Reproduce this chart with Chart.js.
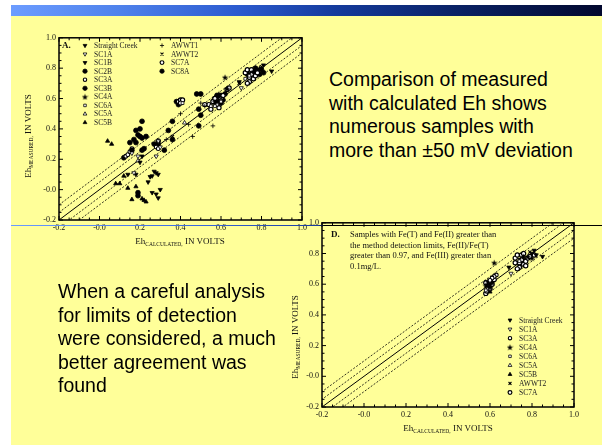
<!DOCTYPE html>
<html>
<head>
<meta charset="utf-8">
<script src="https://cdn.jsdelivr.net/npm/chart.js@4.4.1/dist/chart.umd.min.js"></script>
<style>
html,body{margin:0;padding:0;background:#fff;width:602px;height:445px;overflow:hidden;position:relative;font-family:"Liberation Serif","Times New Roman",serif;color:#111}
#slide{position:absolute;left:11px;top:16px;width:591px;height:429px;background:#ffff99}
#banner{position:absolute;left:11px;top:5px;width:591px;height:11px;background:linear-gradient(90deg,#6c9cff 0%,#4f82ec 18%,#2c5bd0 38%,#143a9c 55%,#0a2266 75%,#02082e 100%)}
#rule{position:absolute;left:11px;top:225px;width:591px;height:1px;background:linear-gradient(90deg,#6c9cff 0%,#3b6be0 30%,#1b3c9c 52%,#000 53%,#000 100%)}
.say{position:absolute;font-family:"Liberation Sans",Arial,sans-serif;font-size:19.5px;line-height:23.6px;color:#000;white-space:nowrap}
.ttl{position:absolute;white-space:nowrap;font-size:9px;transform:translate(-50%,-50%)}
.ttl.rot{transform:translate(-50%,-50%) rotate(-90deg)}
.ttl sub{font-size:5.5px;vertical-align:-2px}
.note{position:absolute;font-size:8.5px;line-height:10.6px;white-space:nowrap}
canvas{position:absolute}
</style>
</head>
<body>
<div id="slide"></div>
<div id="banner"></div>

<canvas id="chartA" width="320" height="225" style="left:0;top:30px"></canvas>
<canvas id="chartD" width="300" height="230" style="left:290px;top:215px"></canvas>
<div id="rule"></div>

<div class="note" style="left:62px;top:40px;font-weight:bold;font-size:9px">A.</div>
<div class="ttl rot" style="left:28px;top:136px">Eh<sub>MEASURED,</sub> IN VOLTS</div>
<div class="ttl" style="left:180px;top:241px">Eh<sub>CALCULATED,</sub> IN VOLTS</div>

<div class="note" style="left:331px;top:229px;font-weight:bold;font-size:9px">D.</div>
<div class="note" style="left:350px;top:229px">Samples with Fe(T) and Fe(II) greater than<br>the method detection limits, Fe(II)/Fe(T)<br>greater than 0.97, and Fe(III) greater than<br>0.1mg/L.</div>
<div class="ttl rot" style="left:295px;top:337px">Eh<sub>MEASURED,</sub> IN VOLTS</div>
<div class="ttl" style="left:448px;top:428px">Eh<sub>CALCULATED,</sub> IN VOLTS</div>

<div class="say" style="left:329px;top:68px">Comparison of measured<br>with calculated Eh shows<br>numerous samples with<br>more than ±50 mV deviation</div>
<div class="say" style="left:58px;top:280px">When a careful analysis<br>for limits of detection<br>were considered, a much<br>better agreement was<br>found</div>

<script>
// axis range and tick labels (volts)
const axisMin = -0.2;
const axisMax = 1.0;
const tickStep = 0.2;

// reference lines: 1:1 and offsets of +-50 / +-100 mV
const lineX = [-0.3, 1.1];
const lineOffsets = [0, 0.05, -0.05, 0.1, -0.1];

// panel A  [Eh calculated, Eh measured]
const aStraightCreek = [[0.27,0.12],[0.28,0.11],[0.29,0.10],[0.26,0.09],[0.25,0.085],[0.24,0.05],[0.30,0.00],[0.28,-0.03],[0.29,-0.055],[0.26,-0.02],[0.85,0.78],[0.81,0.82],[0.69,0.71]];
const aSC1A = [[0.28,0.22],[0.19,0.22],[0.29,0.32],[0.70,0.67],[0.17,0.11],[0.30,0.28],[0.16,0.24]];
const aSC1B = [[0.20,0.18],[0.18,0.10],[0.21,0.22],[0.14,0.10]];
const aSC2B = [[0.15,0.31],[0.18,0.39],[0.21,0.45],[0.20,0.35],[0.19,0.36],[0.21,0.34],[0.23,0.35],[0.18,0.31],[0.16,0.26],[0.20,0.40],[0.22,0.27],[0.21,0.26],[0.17,0.33],[0.19,-0.02],[0.19,-0.04]];
const aSC3A = [[0.13,0.22],[0.14,0.23],[0.15,0.25],[0.16,0.27],[0.28,0.28],[0.29,0.27]];
const aSC3B = [[0.34,0.39],[0.36,0.45],[0.32,0.26],[0.29,0.30],[0.36,0.33],[0.27,0.30],[0.29,0.32],[0.49,0.42],[0.49,0.53],[0.50,0.49],[0.12,0.21]];
const aSC4A = [[0.62,0.74],[0.63,0.665],[0.59,0.63],[0.79,0.80],[0.76,0.78],[0.57,0.58]];
const aSC6A = [[0.58,0.56],[0.60,0.58],[0.57,0.55],[0.74,0.75],[0.72,0.73],[0.55,0.55],[0.41,0.57]];
const aSC5A = [[0.19,0.19],[0.42,0.44]];
const aSC5B = [[0.04,0.32],[0.06,0.30],[0.08,0.04],[0.14,0.01],[0.16,-0.065],[0.23,-0.08],[0.22,-0.07],[0.12,0.09],[0.18,0.02],[0.21,-0.06],[0.10,0.04]];
const aAWWT1 = [[0.40,0.50],[0.56,0.42],[0.46,0.35],[0.50,0.57],[0.44,0.43],[0.52,0.55],[0.33,0.33]];
const aAWWT2 = [[0.69,0.70],[0.80,0.81],[0.74,0.76],[0.60,0.60],[0.36,0.35]];
const aSC7A = [[0.39,0.58],[0.40,0.59],[0.41,0.59],[0.40,0.57],[0.54,0.56],[0.56,0.58],[0.58,0.56],[0.59,0.54],[0.60,0.60],[0.61,0.62],[0.63,0.66],[0.64,0.67],[0.72,0.77],[0.73,0.79],[0.74,0.74],[0.75,0.76],[0.76,0.73],[0.77,0.75],[0.78,0.77],[0.74,0.71],[0.73,0.70],[0.75,0.79],[0.57,0.60],[0.52,0.56],[0.55,0.53]];
const aSC8A = [[0.38,0.58],[0.39,0.56],[0.48,0.63],[0.50,0.63],[0.57,0.60],[0.58,0.62],[0.59,0.58],[0.60,0.57],[0.59,0.61],[0.58,0.57],[0.61,0.59],[0.60,0.62],[0.62,0.63],[0.76,0.78],[0.78,0.78],[0.79,0.76],[0.80,0.79],[0.81,0.77],[0.77,0.80],[0.73,0.76]];

// panel D
const dStraightCreek = [[0.85,0.78],[0.81,0.82],[0.80,0.80],[0.69,0.71],[0.82,0.79]];
const dSC1A = [[0.70,0.67]];
const dSC3A = [[0.63,0.66],[0.62,0.65],[0.61,0.64],[0.60,0.625]];
const dSC4A = [[0.62,0.74],[0.59,0.60],[0.60,0.58],[0.58,0.59],[0.61,0.61],[0.59,0.62],[0.60,0.60],[0.76,0.78],[0.78,0.78],[0.80,0.77]];
const dSC6A = [[0.58,0.56],[0.74,0.75],[0.60,0.57]];
const dSC5A = [[0.59,0.57]];
const dSC5B = [[0.60,0.55]];
const dAWWT2 = [[0.74,0.76],[0.79,0.81]];
const dSC7A = [[0.58,0.54],[0.585,0.555],[0.60,0.57],[0.59,0.60],[0.58,0.61],[0.60,0.62],[0.61,0.60],[0.62,0.63],[0.72,0.77],[0.73,0.79],[0.74,0.74],[0.75,0.76],[0.76,0.73],[0.77,0.75],[0.78,0.77],[0.74,0.71],[0.73,0.70],[0.75,0.79],[0.76,0.80],[0.79,0.78],[0.81,0.79],[0.72,0.74],[0.77,0.72]];

// filled star marker
const star = document.createElement('canvas');
star.width = 7; star.height = 7;
(function () {
  const c = star.getContext('2d');
  c.fillStyle = '#000';
  c.beginPath();
  for (let i = 0; i < 10; i++) {
    const r = i % 2 ? 1.4 : 3.4;
    const a = -Math.PI / 2 + i * Math.PI / 5;
    c.lineTo(3.5 + r * Math.cos(a), 3.8 + r * Math.sin(a));
  }
  c.closePath();
  c.fill();
})();

const markStyles = {
  'Straight Creek': {style: 'triangle', rot: 180, fill: true},
  'SC1A': {style: 'triangle', rot: 180, fill: false},
  'SC1B': {style: 'triangle', rot: 180, fill: true},
  'SC2B': {style: 'circle', fill: true},
  'SC3A': {style: 'circle', fill: false, bw: 1.1, r: 1.9},
  'SC3B': {style: 'circle', fill: true},
  'SC4A': {style: star, fill: true},
  'SC6A': {style: 'rect', fill: false, r: 2},
  'SC5A': {style: 'triangle', fill: false},
  'SC5B': {style: 'triangle', fill: true},
  'AWWT1': {style: 'cross', fill: false, r: 2.3},
  'AWWT2': {style: 'crossRot', fill: false, r: 2.3, bw: 1.1},
  'SC7A': {style: 'circle', fill: false, bw: 1.2, r: 2.1},
  'SC8A': {style: 'circle', fill: true, r: 2.4}
};

function pointSet(name, pts) {
  const s = markStyles[name];
  return {
    label: name,
    data: pts.map(([x, y]) => ({x, y})),
    pointStyle: s.style,
    rotation: s.rot || 0,
    pointRadius: s.r || 2.4,
    backgroundColor: s.fill ? '#000' : '#fff',
    borderColor: '#000',
    borderWidth: s.bw || 0.8,
    showLine: false,
    order: 1
  };
}

function refLines() {
  return lineOffsets.map(off => ({
    data: lineX.map(x => ({x, y: x + off})),
    showLine: true,
    pointRadius: 0,
    borderColor: '#000',
    borderWidth: off === 0 ? 1 : 0.8,
    borderDash: off === 0 ? [] : [2, 1.6],
    order: 10
  }));
}

// frame with inward ticks on all four sides
const frameTicks = {
  id: 'frameTicks',
  afterDatasetsDraw(chart) {
    const {ctx, chartArea: a} = chart;
    const sx = chart.scales.x, sy = chart.scales.y;
    ctx.save();
    ctx.strokeStyle = '#000';
    ctx.lineWidth = 1;
    ctx.beginPath();
    for (let i = 0; i <= 24; i++) {
      const v = axisMin + i * 0.05;
      const len = i % 4 === 0 ? 4 : 2.5;
      const px = sx.getPixelForValue(v), py = sy.getPixelForValue(v);
      ctx.moveTo(px, a.bottom); ctx.lineTo(px, a.bottom - len);
      ctx.moveTo(px, a.top); ctx.lineTo(px, a.top + len);
      ctx.moveTo(a.left, py); ctx.lineTo(a.left + len, py);
      ctx.moveTo(a.right, py); ctx.lineTo(a.right - len, py);
    }
    ctx.stroke();
    ctx.lineWidth = 1.5;
    ctx.strokeRect(a.left, a.top, a.right - a.left, a.bottom - a.top);
    ctx.restore();
  }
};

// legend drawn inside the plot
const pointKey = {
  id: 'pointKey',
  afterDraw(chart, args, opts) {
    const {ctx, chartArea: a} = chart;
    ctx.save();
    ctx.font = '7.5px "Liberation Serif", serif';
    ctx.textBaseline = 'middle';
    opts.columns.forEach(col => {
      col.names.forEach((name, i) => {
        const s = markStyles[name];
        const x = a.left + col.dx, y = a.top + col.dy + i * col.step;
        ctx.fillStyle = s.fill ? '#000' : '#fff';
        ctx.strokeStyle = '#000';
        ctx.lineWidth = s.bw || 0.8;
        Chart.helpers.drawPoint(ctx, {pointStyle: s.style, rotation: s.rot || 0, radius: (s.r || 2.4) * 0.9, borderWidth: s.bw || 0.8}, x, y);
        ctx.fillStyle = '#222';
        ctx.fillText(name, x + 9, y + 0.5);
      });
    });
    ctx.restore();
  }
};

Chart.defaults.font.family = '"Liberation Serif", "Times New Roman", serif';
Chart.defaults.color = '#111';

function makeChart(id, sets, pad, yWidth, xHeight, columns) {
  const tickFont = {size: 8};
  return new Chart(document.getElementById(id), {
    type: 'scatter',
    data: {datasets: sets.concat(refLines())},
    options: {
      responsive: false,
      animation: false,
      layout: {padding: pad},
      plugins: {legend: {display: false}, tooltip: {enabled: false}, pointKey: {columns}},
      scales: {
        x: {
          type: 'linear', min: axisMin, max: axisMax,
          grid: {display: false, drawTicks: false}, border: {display: false},
          ticks: {stepSize: tickStep, font: tickFont, padding: 3, maxRotation: 0, callback: v => v.toFixed(1)},
          afterFit: s => { s.height = xHeight; }
        },
        y: {
          type: 'linear', min: axisMin, max: axisMax,
          grid: {display: false, drawTicks: false}, border: {display: false},
          ticks: {stepSize: tickStep, font: tickFont, padding: 3, callback: v => v.toFixed(1)},
          afterFit: s => { s.width = yWidth; }
        }
      }
    },
    plugins: [frameTicks, pointKey]
  });
}

makeChart('chartA', [
  pointSet('Straight Creek', aStraightCreek), pointSet('SC1A', aSC1A), pointSet('SC1B', aSC1B),
  pointSet('SC2B', aSC2B), pointSet('SC3A', aSC3A), pointSet('SC3B', aSC3B), pointSet('SC4A', aSC4A),
  pointSet('SC6A', aSC6A), pointSet('SC5A', aSC5A), pointSet('SC5B', aSC5B), pointSet('AWWT1', aAWWT1),
  pointSet('AWWT2', aAWWT2), pointSet('SC7A', aSC7A), pointSet('SC8A', aSC8A)
], {top: 7, right: 18, left: 0, bottom: 0}, 59, 35, [
  {dx: 26, dy: 7.7, step: 8.56, names: ['Straight Creek', 'SC1A', 'SC1B', 'SC2B', 'SC3A', 'SC3B', 'SC4A', 'SC6A', 'SC5A', 'SC5B']},
  {dx: 103, dy: 7.7, step: 8.56, names: ['AWWT1', 'AWWT2', 'SC7A', 'SC8A']}
]);

makeChart('chartD', [
  pointSet('Straight Creek', dStraightCreek), pointSet('SC1A', dSC1A), pointSet('SC3A', dSC3A),
  pointSet('SC4A', dSC4A), pointSet('SC6A', dSC6A), pointSet('SC5A', dSC5A), pointSet('SC5B', dSC5B),
  pointSet('AWWT2', dAWWT2), pointSet('SC7A', dSC7A)
], {top: 7, right: 16, left: 0, bottom: 0}, 32, 38, [
  {dx: 188, dy: 97.3, step: 9.05, names: ['Straight Creek', 'SC1A', 'SC3A', 'SC4A', 'SC6A', 'SC5A', 'SC5B', 'AWWT2', 'SC7A']}
]);
</script>
</body>
</html>
